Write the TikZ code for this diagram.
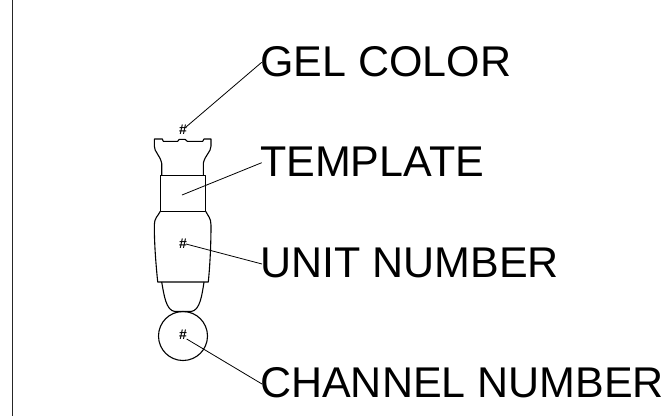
\documentclass[tikz,border=0pt]{standalone}
\usepackage{fontspec}
\setmainfont{Liberation Sans}
\tikzset{
  outline/.style={draw=black,line width=1.1pt,line join=round},
  leader/.style={draw=black,line width=0.8pt},
  biglabel/.style={anchor=base west,inner sep=0pt,font=\fontsize{43}{43}\selectfont},
  hash/.style={inner sep=0pt,font=\bfseries\fontsize{14}{14}\selectfont}
}
\begin{document}
\begin{tikzpicture}[x=1pt,y=-1pt]
\useasboundingbox (0,0) rectangle (672,416);
\fill[white] (0,0) rectangle (672,416);
\coordinate (bt) at (12.3,0);
\coordinate (bb) at (12.3,416);
\draw[line width=1.4pt,draw=black!85] (bt) -- (bb);
% body
\draw[outline] (161.7,175.3) -- (161.7,163.3) .. controls (160,155) and (154.3,152) .. (154.3,146) -- (154.3,139) -- (162.3,139) -- (163.3,141.3) -- (177.7,141.3) -- (179.3,139.3) -- (185,139.3) -- (187.3,141.3) -- (202.7,141.3) -- (204,139) -- (211,139) -- (211,146) .. controls (211,152) and (205,155) .. (203.3,163.3) -- (203.3,175.3);
\draw[outline] (160.3,175.3) rectangle (205.7,211.3);
\draw[outline] (160.3,211.3) .. controls (158,216) and (154.3,218) .. (154.3,225) .. controls (154.3,245) and (156,265) .. (157.7,282) -- (208.3,282) .. controls (210,265) and (211,245) .. (211,225) .. controls (211,218) and (208,216) .. (205.7,211.3);
\draw[outline] (161.7,282) .. controls (164,295) and (166,310.7) .. (175,311.5) -- (191,311.5) .. controls (200,310.7) and (202,295) .. (204,282);
\node[circle,draw=black,line width=1.1pt,minimum size=49pt,inner sep=0pt] (circ) at (183,336) {};
% labels
\node[hash] (h1) at (183,129.3) {\#};
\node[hash] (h2) at (183,244) {\#};
\node[hash] (h3) at (183,335) {\#};
\coordinate (tp) at (182,195);
\node[biglabel] (gel) at (260,76) {GEL COLOR};
\node[biglabel] (tem) at (260,176.5) {TEMPLATE};
\node[biglabel] (uni) at (260,277) {UNIT NUMBER};
\node[biglabel] (cha) at (260,397) {CHANNEL NUMBER};
\coordinate (ga) at (186,127);
\coordinate (ua) at (186,244);
\coordinate (ca) at (186.7,339);
\draw[leader] (ga) -- ([xshift=1.7pt,yshift=13.7pt]gel.base west);
\draw[leader] (tp) -- ([xshift=1.7pt,yshift=13.8pt]tem.base west);
\draw[leader] (ua) -- ([xshift=2pt,yshift=13pt]uni.base west);
\draw[leader] (ca) -- ([xshift=2pt,yshift=13pt]cha.base west);
\end{tikzpicture}
\end{document}
